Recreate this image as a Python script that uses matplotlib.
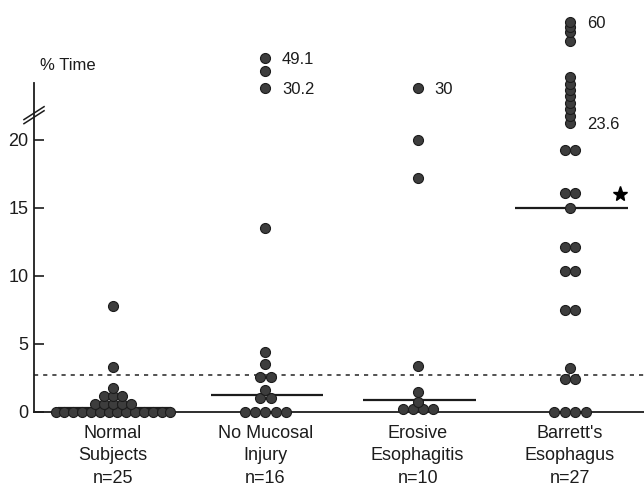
import matplotlib
matplotlib.use('Agg')
import matplotlib.pyplot as plt
import numpy as np

plt.rcParams['font.family'] = ['Liberation Sans', 'DejaVu Sans']

groups = ['Normal\nSubjects\nn=25', 'No Mucosal\nInjury\nn=16',
          'Erosive\nEsophagitis\nn=10', "Barrett's\nEsophagus\nn=27"]

# % time pH < 4, one entry per subject dot
normal = [0, 0, 0, 0, 0, 0, 0, 0, 0, 0, 0, 0, 0, 0,
          0.6, 0.6, 0.6, 0.6, 0.6, 1.2, 1.2, 1.2, 1.8, 3.3, 7.8]
no_mucosal = [0, 0, 0, 0, 0, 1.0, 1.0, 1.6, 2.6, 2.6, 3.5, 4.4,
              13.5, 30.2, 41.0, 49.1]
erosive = [0.2, 0.2, 0.2, 0.2, 0.7, 1.5, 3.4, 17.2, 20.0, 30.0]
barretts = [0, 0, 0, 0, 2.4, 2.4, 3.2, 7.5, 7.5, 10.4, 10.4, 12.1, 12.1,
            15.0, 16.1, 16.1, 19.3, 19.3, 23.6, 24.9, 26.1, 27.2, 28.5,
            29.7, 33.0, 36.9, 54.3, 56.8, 58.4, 60.0]
all_groups = [normal, no_mucosal, erosive, barretts]
medians = [0.3, 1.25, 0.9, 15.0]
normal_limit = 2.7

# values written next to the off-scale dots
label_group = [1, 1, 2, 3, 3]
label_value = [49.1, 30.2, 30.0, 60.0, 23.6]
label_text = ['49.1', '30.2', '30', '60', '23.6']

# broken axis: piecewise mapping of % time to plotted height
brk_val = [0, 21, 23.6, 30, 49.1, 60, 100]
brk_pos = [0, 21, 21.25, 23.8, 26.0, 28.7, 35]


def fwd(v):
	return np.interp(v, brk_val, brk_pos)


def inv(d):
	return np.interp(d, brk_pos, brk_val)


def swarm(vals, center, step):
	vals = np.array(vals, dtype=float)
	xs = np.zeros(len(vals))
	for v in np.unique(vals):
		idx = np.where(vals == v)[0]
		k = len(idx)
		xs[idx] = center + (np.arange(k) - (k - 1) / 2) * step
	return xs, vals


fig = plt.figure(figsize=(6.44, 4.88), dpi=100)
ax = fig.add_axes([34 / 644, 76 / 488, 610 / 644, 397 / 488])
ax.set_yscale('function', functions=(fwd, inv))
ax.set_xlim(-0.519, 3.486)
ax.set_ylim(0, inv(29.19))

ink = '#1c1c1c'
steps = [0.058, 0.068, 0.066, 0.068]
for i, vals in enumerate(all_groups):
	xs, ys = swarm(vals, i, steps[i])
	ax.plot(xs, ys, 'o', ms=7.2, mfc='#3d3d3d', mec=ink, mew=0.8,
	        clip_on=False, zorder=3)

ax.hlines(medians, np.arange(4) - 0.36, np.arange(4) + 0.38, color=ink,
          lw=1.6, zorder=2)
ax.axhline(normal_limit, color='#333333', lw=1.2, dashes=(2.5, 3), zorder=1)

for g, v, t in zip(label_group, label_value, label_text):
	ax.annotate(t, (g, v), xytext=(12, -1), textcoords='offset points',
	            ha='left', va='center', fontsize=12, color=ink)

# significance star next to Barrett's median
ax.plot(3 + 0.33, 16.0, marker='*', ms=11, color='black', clip_on=False)

# axis styling
for s in ['top', 'right']:
	ax.spines[s].set_visible(False)
ax.spines['left'].set_bounds(0, inv(24.2))
ax.spines['left'].set_linewidth(1.3)
ax.spines['bottom'].set_linewidth(1.3)
ax.spines['left'].set_color(ink)
ax.spines['bottom'].set_color(ink)

ax.set_yticks([0, 5, 10, 15, 20])
ax.set_yticklabels(['0', '5', '10', '15', '20'])
ax.yaxis.set_minor_locator(matplotlib.ticker.NullLocator())
ax.tick_params(axis='y', direction='in', length=7, width=1.2, pad=4,
               labelsize=13, colors=ink)
ax.set_xticks(range(4))
ax.set_xticklabels(groups)
ax.tick_params(axis='x', length=0, pad=9, labelsize=13, colors=ink)
for lab in ax.get_xticklabels():
	lab.set_linespacing(1.45)

# break marks on the y axis
x0 = -0.519
for dy in [0, -0.3]:
	ax.plot([x0 - 0.066, x0 + 0.066], [inv(21.5 + dy), inv(22.45 + dy)],
	        color=ink, lw=1.1, clip_on=False)

fig.text(40 / 644, 1 - 65 / 488, '% Time', ha='left', va='center',
         fontsize=12, color=ink)

plt.savefig('out.png', dpi=100)
